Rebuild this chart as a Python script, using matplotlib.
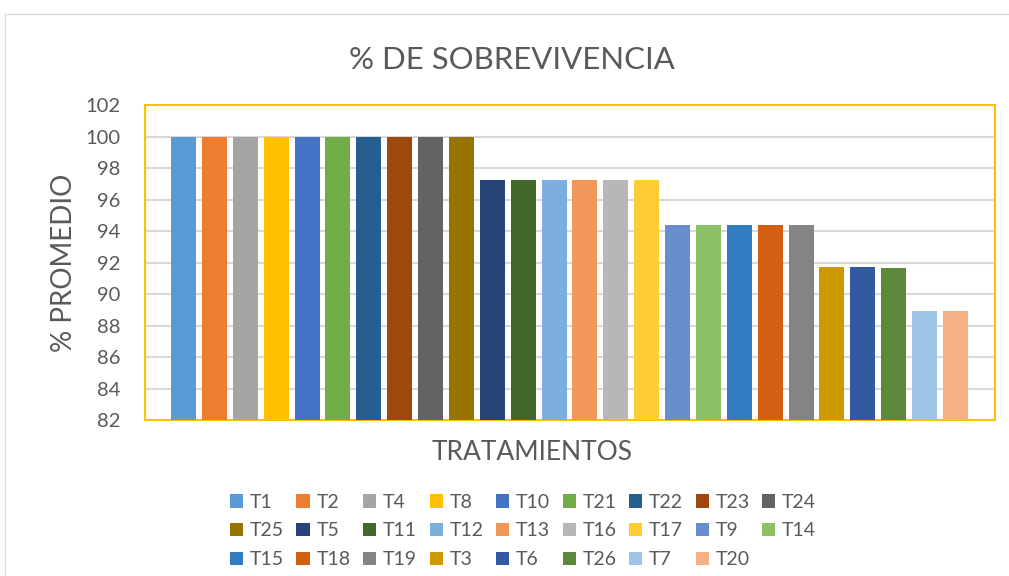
import matplotlib
matplotlib.use("Agg")
import matplotlib.pyplot as plt
from matplotlib.patches import Rectangle, Patch

plt.rcParams['font.family'] = ['Lato', 'DejaVu Sans']

labels = ["T1", "T2", "T4", "T8", "T10", "T21", "T22", "T23", "T24", "T25",
          "T5", "T11", "T12", "T13", "T16", "T17",
          "T9", "T14", "T15", "T18", "T19",
          "T3", "T6", "T26",
          "T7", "T20"]
values = [100, 100, 100, 100, 100, 100, 100, 100, 100, 100,
          97.22, 97.22, 97.22, 97.22, 97.22, 97.22,
          94.4, 94.4, 94.4, 94.4, 94.4,
          91.72, 91.72, 91.66,
          88.92, 88.92]
colors = ["#5B9BD5", "#ED7D31", "#A5A5A5", "#FFC000", "#4472C4", "#70AD47",
          "#255E91", "#9E480E", "#636363", "#997300", "#264478", "#43682B",
          "#7CAFDD", "#F1975A", "#B7B7B7", "#FFCD33", "#698ED0", "#8CC168",
          "#327DC2", "#D26012", "#848484", "#CC9A00", "#335AA1", "#5A8A39",
          "#9DC3E6", "#F4B183"]
yticks = [82, 84, 86, 88, 90, 92, 94, 96, 98, 100, 102]

TXT = "#595959"
fig = plt.figure(figsize=(10.09, 5.76), dpi=100)
fig.patch.set_facecolor("white")
fig.add_artist(Rectangle((5/1009, -0.05), 1.1, 1 - 14/576 + 0.05, transform=fig.transFigure,
                         fill=False, edgecolor="#D9D9D9", linewidth=1.0))

ax = fig.add_axes([145/1009, 1 - 420/576, (995-145)/1009, (420-105)/576])
x = list(range(len(values)))
ax.bar(x, [v - 82 for v in values], bottom=82, width=0.81, color=colors, zorder=3)
ax.set_ylim(82, 102)
ax.set_xlim(-1.247, len(values) - 1 + 1.28)
ax.set_yticks(yticks)
ax.set_yticklabels([str(t) for t in yticks], fontsize=14.5, color=TXT)
ax.set_xticks([])
ax.tick_params(axis='y', length=0, pad=18)
ax.grid(axis='y', color="#D9D9D9", linewidth=1.5, zorder=0)
for s in ax.spines.values():
    s.set_color("#FFC000")
    s.set_linewidth(1.5)

fig.text(512/1009, 1 - 60/576, "% DE SOBREVIVENCIA", ha='center', va='center',
         fontsize=22.4, color=TXT)
ax.set_ylabel("% PROMEDIO", fontsize=20, color=TXT, labelpad=6)
fig.text(532/1009, 1 - 453/576, "TRATAMIENTOS", ha='center', va='center',
         fontsize=19, color=TXT)

# legend in Excel row-major order -> reorder for matplotlib column-major fill
ncol = 9
handles = [Patch(facecolor=c, edgecolor='none') for c in colors]
nrows = -(-len(labels) // ncol)
order = []
for j in range(ncol):
    for r in range(nrows):
        k = r * ncol + j
        if k < len(labels):
            order.append(k)
leg = fig.legend([handles[k] for k in order], [labels[k] for k in order],
                 ncol=ncol, loc='center', bbox_to_anchor=(523/1009, 1 - 531/576),
                 frameon=False, fontsize=14, handlelength=0.68, handleheight=0.68,
                 handletextpad=0.35, columnspacing=0.64, labelspacing=0.6,
                 borderpad=0)
for t in leg.get_texts():
    t.set_color(TXT)

fig.savefig("out.png", dpi=100, facecolor="white")
